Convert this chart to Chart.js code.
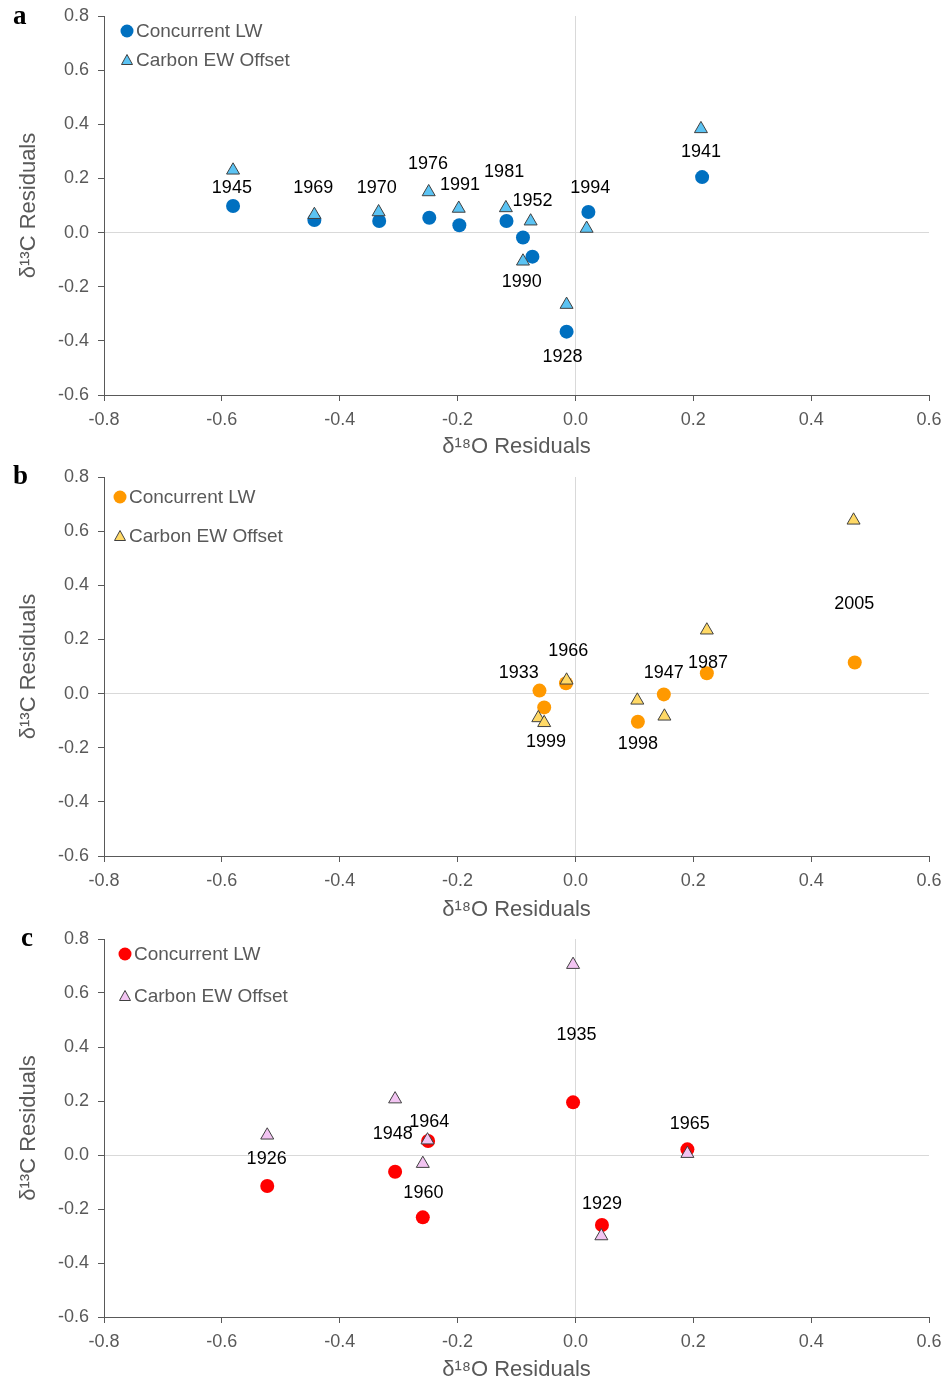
<!DOCTYPE html>
<html>
<head>
<meta charset="utf-8">
<script src="https://cdn.jsdelivr.net/npm/chart.js@4.4.0/dist/chart.umd.min.js"></script>
<style>
  body { margin: 0; background: #fff; width: 948px; height: 1385px; position: relative; overflow: hidden; }
  .panel { position: absolute; left: 0; width: 948px; }
  .tag { position: absolute; font: bold 27px "Liberation Serif", "Times New Roman", serif; color: #000; }
</style>
</head>
<body>
<div class="panel" style="top:0;height:462px"><canvas id="chartA" width="948" height="462"></canvas></div>
<div class="panel" style="top:462px;height:463px"><canvas id="chartB" width="948" height="463"></canvas></div>
<div class="panel" style="top:925px;height:460px"><canvas id="chartC" width="948" height="460"></canvas></div>
<div class="tag" style="left:13px;top:0px">a</div>
<div class="tag" style="left:13px;top:460px">b</div>
<div class="tag" style="left:21px;top:922px">c</div>
<script>
// panel a
const aYears = ['1945', '1969', '1970', '1976', '1991', '1981', '1952', '1990', '1928', '1994', '1941'];
const aLwX = [-0.581, -0.443, -0.333, -0.248, -0.197, -0.117, -0.073, -0.089, -0.015, 0.022, 0.215];
const aLwY = [0.098, 0.046, 0.043, 0.055, 0.027, 0.043, -0.089, -0.018, -0.366, 0.076, 0.205];
const aEwX = [-0.581, -0.443, -0.334, -0.249, -0.198, -0.118, -0.076, -0.089, -0.015, 0.019, 0.213];
const aEwY = [0.230, 0.066, 0.076, 0.150, 0.089, 0.091, 0.042, -0.106, -0.266, 0.015, 0.383];
const aLabX = [-0.583, -0.445, -0.337, -0.250, -0.196, -0.121, -0.073, -0.091, -0.022, 0.025, 0.213];
const aLabY = [0.165, 0.165, 0.165, 0.253, 0.176, 0.223, 0.117, -0.182, -0.459, 0.165, 0.298];

// panel b
const bYears = ['1933', '1999', '1966', '1998', '1947', '1987', '2005'];
const bLwX = [-0.061, -0.053, -0.016, 0.106, 0.150, 0.223, 0.474];
const bLwY = [0.011, -0.051, 0.038, -0.104, -0.003, 0.075, 0.115];
const bEwX = [-0.063, -0.053, -0.015, 0.105, 0.151, 0.223, 0.472];
const bEwY = [-0.090, -0.108, 0.049, -0.025, -0.084, 0.234, 0.640];
const bLabX = [-0.096, -0.050, -0.012, 0.106, 0.150, 0.225, 0.473];
const bLabY = [0.077, -0.180, 0.157, -0.187, 0.077, 0.114, 0.329];

// panel c
const cYears = ['1926', '1948', '1964', '1960', '1935', '1965', '1929'];
const cLwX = [-0.523, -0.306, -0.250, -0.259, -0.004, 0.190, 0.045];
const cLwY = [-0.115, -0.062, 0.052, -0.231, 0.195, 0.021, -0.259];
const cEwX = [-0.523, -0.306, -0.251, -0.259, -0.004, 0.190, 0.044];
const cEwY = [0.073, 0.207, 0.055, -0.032, 0.705, 0.005, -0.300];
const cLabX = [-0.524, -0.310, -0.248, -0.258, 0.002, 0.194, 0.045];
const cLabY = [-0.016, 0.077, 0.122, -0.142, 0.444, 0.115, -0.181];

const seriesNames = ['Concurrent LW', 'Carbon EW Offset'];
const FONT = '"Liberation Sans", Arial, sans-serif';
const GREY = '#595959';

const yearLabels = {
  id: 'yearLabels',
  afterDatasetsDraw(chart, args, opts) {
    const { ctx, scales: { x, y } } = chart;
    ctx.save();
    ctx.font = '18px ' + FONT;
    ctx.fillStyle = '#000';
    ctx.textAlign = 'center';
    ctx.textBaseline = 'middle';
    opts.years.forEach((t, i) => {
      ctx.fillText(t, x.getPixelForValue(opts.xs[i]), y.getPixelForValue(opts.ys[i]));
    });
    ctx.restore();
  }
};

const insideLegend = {
  id: 'insideLegend',
  afterDraw(chart, args, opts) {
    const { ctx, chartArea } = chart;
    const cx = chartArea.left + opts.dx;
    ctx.save();
    ctx.font = '19px ' + FONT;
    ctx.textBaseline = 'middle';
    ctx.textAlign = 'left';
    chart.data.datasets.forEach((ds) => {
      const cy = chartArea.top + (ds.pointStyle === 'circle' ? opts.dy1 : opts.dy2);
      ctx.fillStyle = ds.backgroundColor;
      ctx.strokeStyle = ds.borderColor;
      ctx.lineWidth = 1;
      ctx.beginPath();
      if (ds.pointStyle === 'circle') {
        ctx.arc(cx, cy, 6.5, 0, Math.PI * 2);
        ctx.fill();
      } else {
        ctx.moveTo(cx, cy - 5.5);
        ctx.lineTo(cx + 5.5, cy + 4.5);
        ctx.lineTo(cx - 5.5, cy + 4.5);
        ctx.closePath();
        ctx.fill();
        ctx.stroke();
      }
      ctx.fillStyle = GREY;
      ctx.fillText(ds.label, cx + 9, cy + 1);
    });
    ctx.restore();
  }
};

function pts(xs, ys) {
  return xs.map((v, i) => ({ x: v, y: ys[i] }));
}

function tickText(v) {
  return Math.abs(v) < 1e-9 ? '0.0' : v.toFixed(1);
}

function zeroGrid(c) {
  return c.tick && Math.abs(c.tick.value) < 1e-9 ? '#d9d9d9' : 'rgba(0,0,0,0)';
}

function makePanel(id, p) {
  return new Chart(document.getElementById(id), {
    type: 'scatter',
    data: {
      datasets: [
        {
          label: seriesNames[0],
          data: pts(p.lwX, p.lwY),
          pointStyle: 'circle',
          pointRadius: 7,
          backgroundColor: p.lwColor,
          borderColor: p.lwColor,
          borderWidth: 0,
          order: 1,
        },
        {
          label: seriesNames[1],
          data: pts(p.ewX, p.ewY),
          pointStyle: 'triangle',
          pointRadius: 7.5,
          backgroundColor: p.ewColor,
          borderColor: '#404040',
          borderWidth: 1,
          order: 0,
        },
      ],
    },
    options: {
      responsive: false,
      animation: false,
      layout: { padding: { top: p.top, right: 19, left: 0, bottom: 0 } },
      plugins: {
        legend: { display: false },
        tooltip: { enabled: false },
        yearLabels: { years: p.years, xs: p.labX, ys: p.labY },
        insideLegend: { dx: p.legDx, dy1: p.legDy1, dy2: p.legDy2 },
      },
      scales: {
        x: {
          type: 'linear',
          min: -0.8,
          max: 0.6,
          afterFit: (s) => { s.height = p.bottom; s.paddingLeft = 0; s.paddingRight = 0; },
          ticks: { stepSize: 0.2, color: GREY, font: { family: FONT, size: 18 }, padding: 8, callback: tickText },
          grid: { color: zeroGrid, tickColor: GREY, tickLength: 6, lineWidth: 1 },
          border: { color: GREY, width: 1 },
          title: { display: true, text: 'δ¹⁸O Residuals', color: GREY, font: { family: FONT, size: 22 }, padding: { top: 0, bottom: 2 } },
        },
        y: {
          type: 'linear',
          min: -0.6,
          max: 0.8,
          afterFit: (s) => { s.width = 104; s.paddingTop = 0; s.paddingBottom = 0; },
          ticks: { stepSize: 0.2, color: GREY, font: { family: FONT, size: 18 }, padding: 9, callback: tickText },
          grid: { color: zeroGrid, tickColor: GREY, tickLength: 6, lineWidth: 1 },
          border: { color: GREY, width: 1 },
          title: { display: true, text: 'δ¹³C Residuals', color: GREY, font: { family: FONT, size: 22 }, padding: { top: 16, bottom: 0 } },
        },
      },
    },
    plugins: [yearLabels, insideLegend],
  });
}

makePanel('chartA', {
  years: aYears, lwX: aLwX, lwY: aLwY, ewX: aEwX, ewY: aEwY, labX: aLabX, labY: aLabY,
  lwColor: '#0070C0', ewColor: '#5BC3F3', top: 16, bottom: 67, legDx: 23, legDy1: 15, legDy2: 44,
});
makePanel('chartB', {
  years: bYears, lwX: bLwX, lwY: bLwY, ewX: bEwX, ewY: bEwY, labX: bLabX, labY: bLabY,
  lwColor: '#FF9900', ewColor: '#FFD966', top: 15, bottom: 69, legDx: 16, legDy1: 20, legDy2: 59,
});
makePanel('chartC', {
  years: cYears, lwX: cLwX, lwY: cLwY, ewX: cEwX, ewY: cEwY, labX: cLabX, labY: cLabY,
  lwColor: '#FF0000', ewColor: '#F2C4F2', top: 14, bottom: 68, legDx: 21, legDy1: 15, legDy2: 57,
});
</script>
</body>
</html>
